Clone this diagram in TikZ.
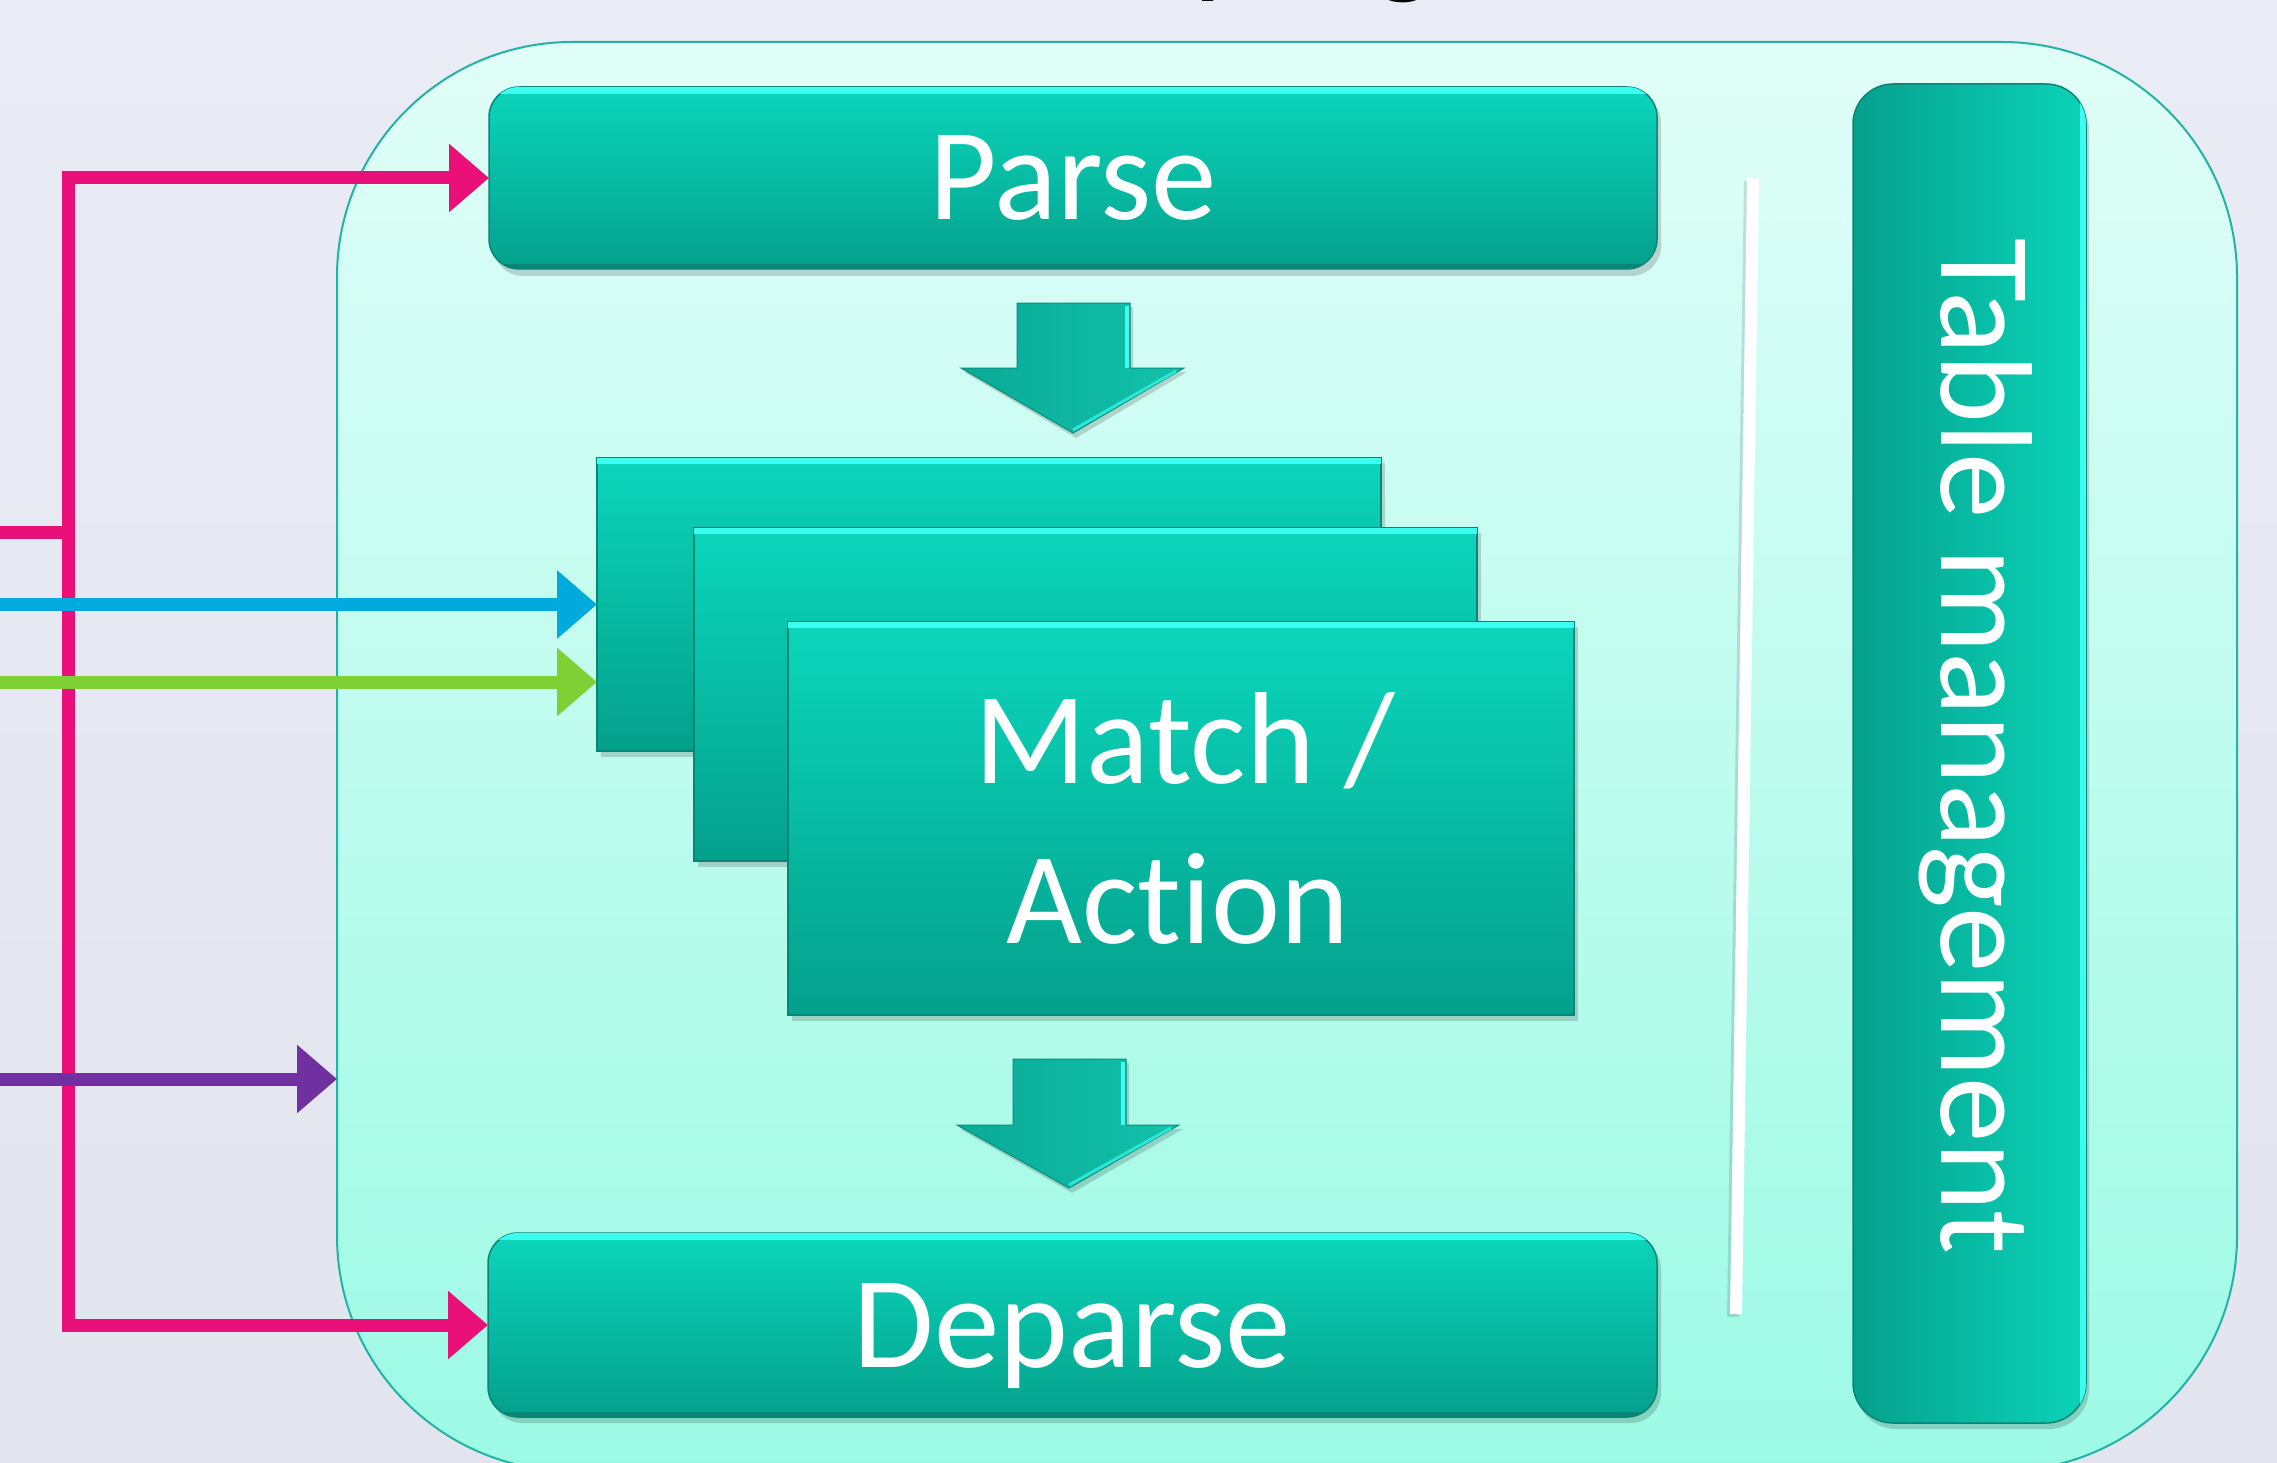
\documentclass[tikz,border=0pt]{standalone}
\usepackage{fontspec}
\setmainfont{Carlito}[Ligatures=NoCommon]
\usetikzlibrary{arrows.meta,calc}
\definecolor{bgTop}{HTML}{E9ECF5}
\definecolor{bgBot}{HTML}{E2E5EE}
\definecolor{contTop}{HTML}{E0FEF8}
\definecolor{contBot}{HTML}{9CFAE4}
\definecolor{contEdge}{HTML}{22B3A2}
\definecolor{boxTop}{HTML}{0BD6BB}
\definecolor{boxBot}{HTML}{04A08C}
\definecolor{boxEdge}{HTML}{0A8475}
\definecolor{boxLeft}{HTML}{05A08C}
\definecolor{boxRight}{HTML}{0BD4B9}
\definecolor{arrL}{HTML}{0AAA96}
\definecolor{arrR}{HTML}{12C2AC}
\definecolor{hl}{HTML}{3DFFF0}
\definecolor{pinkc}{HTML}{E9107A}
\definecolor{bluec}{HTML}{00AADC}
\definecolor{greenc}{HTML}{7ED035}
\definecolor{purplec}{HTML}{7030A0}
\newcommand\tophl[5]{%
  \begin{scope}\clip[rounded corners=#5] (#1,#2) rectangle (#3,#4);
  \fill[hl] (#1,#2) rectangle (#3,#2+7);
  \fill[boxEdge] (#1,#4-5) rectangle (#3,#4);
  \end{scope}}
\tikzset{
  bigtext/.style={font=\fontsize{131pt}{160pt}\selectfont, text=white},
  container/.style={rounded corners=235pt, top color=contTop, bottom color=contBot,
    draw=contEdge, line width=2pt, inner sep=0pt, outer sep=0pt},
  procbox/.style={rounded corners=30pt, top color=boxTop, bottom color=boxBot,
    draw=boxEdge, line width=1.5pt, inner sep=0pt, outer sep=0pt,
    bigtext, text height=84pt, text depth=0pt},
  mabox/.style={top color=boxTop, bottom color=boxBot, draw=boxEdge,
    line width=1.5pt, inner sep=0pt, outer sep=0pt},
  tmbox/.style={rounded corners=40pt, left color=boxLeft, right color=boxRight,
    draw=boxEdge, line width=1.5pt, inner sep=0pt, outer sep=0pt},
  shadowfill/.style={fill=black, opacity=0.16},
  blockarrow/.style={left color=arrL, right color=arrR, draw=boxEdge!80!arrL, line width=1pt},
  feed/.style={line width=13pt, -{Triangle[length=40pt,width=66pt]}},
}
\begin{document}
\begin{tikzpicture}[x=1pt,y=-1pt]
\useasboundingbox (0,0) rectangle (2277,1463);
\fill[top color=bgTop, bottom color=bgBot] (0,0) rectangle (2277,1463);

% cut-off title (only its descenders fall inside the picture)
\begin{scope}
\clip (0,0) rectangle (2277,1463);
\node[font=\fontsize{130pt}{130pt}\selectfont, text=black, anchor=base west, inner sep=0pt] (title) at (1193,-19) {program};
\end{scope}

% device container
\node[container, minimum width=1900pt, minimum height=1429pt] (dev) at (1287,756.5) {};

% Parse
\fill[shadowfill, rounded corners=30pt] (493,93) rectangle (1661,276);
\node[procbox, minimum width=1168pt, minimum height=182pt] (parse) at (1073,178) {Parse};
\tophl{489}{87}{1657}{269}{30pt}

% down arrow 1
\fill[shadowfill] (1020,307) -- (1133,307) -- (1133,372) -- (1187,372) -- (1076,438) -- (964,372) -- (1020,372) -- cycle;
\path[blockarrow] (1017,303) -- (1130,303) -- (1130,368) -- (1184,368) -- (1073,433) -- (961,368) -- (1017,368) -- cycle;
\draw[hl, line width=4pt] (1127,306) -- (1127,368);
\draw[hl!60!arrR, line width=3pt] (1176,371) -- (1073,430);

% Match / Action stack
\fill[shadowfill] (601,463) rectangle (1385,757);
\node[mabox, minimum width=784pt, minimum height=293pt] (back) at (989,604.5) {};
\fill[hl] (597,458) rectangle (1381,464);
\fill[shadowfill] (698,533) rectangle (1481,867);
\node[mabox, minimum width=783pt, minimum height=333pt] (mid) at (1085.5,694.5) {};
\fill[hl] (694,528) rectangle (1477,534);
\fill[shadowfill] (792,627) rectangle (1578,1021);
\node[mabox, minimum width=786pt, minimum height=393pt] (front) at (1181,818.5) {};
\fill[hl] (788,622) rectangle (1574,628);
\node[bigtext, anchor=base, inner sep=0pt] (ma1) at (1185,783) {Match /};
\node[bigtext, anchor=base, inner sep=0pt] (ma2) at (1178,943) {Action};

% down arrow 2
\fill[shadowfill] (1016,1063) -- (1129,1063) -- (1129,1129) -- (1183,1129) -- (1072,1193) -- (960,1129) -- (1016,1129) -- cycle;
\path[blockarrow] (1013,1059) -- (1126,1059) -- (1126,1125) -- (1179,1125) -- (1069,1188) -- (957,1125) -- (1013,1125) -- cycle;
\draw[hl, line width=4pt] (1123,1062) -- (1123,1125);
\draw[hl!60!arrR, line width=3pt] (1171,1128) -- (1069,1185);

% Deparse
\fill[shadowfill, rounded corners=30pt] (492,1239) rectangle (1661,1423);
\node[procbox, minimum width=1169pt, minimum height=184pt] (deparse) at (1072.5,1325) {Deparse};
\tophl{488}{1233}{1657}{1417}{30pt}

% separator line
\coordinate (sepA) at (1753,178);
\coordinate (sepB) at (1736,1314);
\draw[black, opacity=0.12, line width=12pt] ($(sepA)+(-3,3)$) -- ($(sepB)+(-3,3)$);
\draw[white, line width=12pt] (sepA) -- (sepB);

% Table management
\fill[shadowfill, rounded corners=40pt] (1856,90) rectangle (2089,1429);
\node[tmbox, minimum width=233pt, minimum height=1339pt] (tm) at (1969.5,753.5) {};
\begin{scope}
\clip[rounded corners=40pt] (1853,84) rectangle (2086,1423);
\fill[hl] (2080,84) rectangle (2086,1423);
\end{scope}
\node[bigtext, rotate=-90, anchor=base west, inner sep=0pt] (tmtext) at (1941,238) {Table management};

% input connectors
\coordinate (pinkIn) at (0,532);
\coordinate (pinkJ) at (68,532);
\coordinate (blueIn) at (0,604.5);
\coordinate (greenIn) at (0,682);
\coordinate (purpleIn) at (0,1079);
\draw[pinkc, line width=13pt] (pinkIn) -- (pinkJ);
\draw[pinkc, feed] (pinkJ) |- (parse.west);
\draw[pinkc, feed] (pinkJ) |- (deparse.west);
\draw[bluec, feed] (blueIn) -- (back.west);
\draw[greenc, feed] (greenIn) -- (greenIn -| back.west);
\draw[purplec, feed] (purpleIn) -- (purpleIn -| dev.west);
\end{tikzpicture}
\end{document}
